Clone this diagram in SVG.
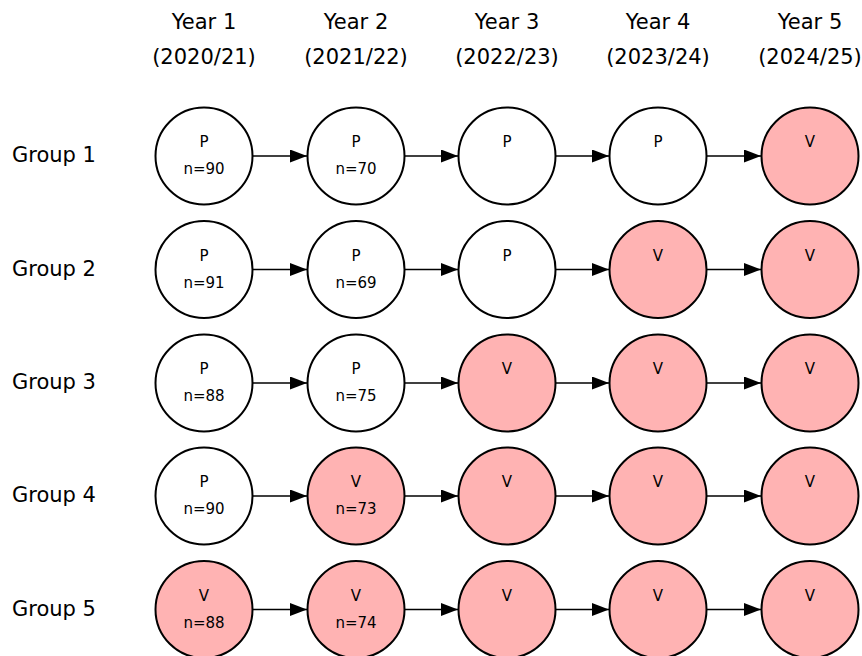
<svg xmlns="http://www.w3.org/2000/svg" width="862" height="656" viewBox="0 0 862 656">
<defs>
<marker id="ah" markerWidth="17" markerHeight="13" refX="17" refY="6.5" orient="auto" markerUnits="userSpaceOnUse">
<path d="M0,0 L17,6.5 L0,13 Z" fill="#000"/>
</marker>
<style>
.hd{font-family:"DejaVu Sans",sans-serif;font-size:21px;fill:#000;text-anchor:middle}
.gl{font-family:"DejaVu Sans",sans-serif;font-size:21px;fill:#000}
.nt{font-family:"DejaVu Sans",sans-serif;font-size:15px;fill:#000;text-anchor:middle}
.p{fill:#fff;stroke:#000;stroke-width:2}
.v{fill:#ffb3b3;stroke:#000;stroke-width:2}
.cn line{stroke:#000;stroke-width:1.3;marker-end:url(#ah)}
</style>
</defs>
<rect width="862" height="656" fill="#fff"/>
<g id="headers">
<text class="hd" x="204" y="29">Year 1</text><text class="hd" x="204" y="64">(2020/21)</text>
<text class="hd" x="356" y="29">Year 2</text><text class="hd" x="356" y="64">(2021/22)</text>
<text class="hd" x="507" y="29">Year 3</text><text class="hd" x="507" y="64">(2022/23)</text>
<text class="hd" x="658" y="29">Year 4</text><text class="hd" x="658" y="64">(2023/24)</text>
<text class="hd" x="810" y="29">Year 5</text><text class="hd" x="810" y="64">(2024/25)</text>
</g>
<g id="group-labels">
<text class="gl" x="12" y="162">Group 1</text>
<text class="gl" x="12" y="276">Group 2</text>
<text class="gl" x="12" y="389">Group 3</text>
<text class="gl" x="12" y="502">Group 4</text>
<text class="gl" x="12" y="616">Group 5</text>
</g>
<g id="connectors" class="cn">
<line x1="253" y1="156" x2="307" y2="156"/><line x1="405" y1="156" x2="458" y2="156"/><line x1="556" y1="156" x2="609" y2="156"/><line x1="707" y1="156" x2="761" y2="156"/>
<line x1="253" y1="269.5" x2="307" y2="269.5"/><line x1="405" y1="269.5" x2="458" y2="269.5"/><line x1="556" y1="269.5" x2="609" y2="269.5"/><line x1="707" y1="269.5" x2="761" y2="269.5"/>
<line x1="253" y1="383" x2="307" y2="383"/><line x1="405" y1="383" x2="458" y2="383"/><line x1="556" y1="383" x2="609" y2="383"/><line x1="707" y1="383" x2="761" y2="383"/>
<line x1="253" y1="496" x2="307" y2="496"/><line x1="405" y1="496" x2="458" y2="496"/><line x1="556" y1="496" x2="609" y2="496"/><line x1="707" y1="496" x2="761" y2="496"/>
<line x1="253" y1="609.5" x2="307" y2="609.5"/><line x1="405" y1="609.5" x2="458" y2="609.5"/><line x1="556" y1="609.5" x2="609" y2="609.5"/><line x1="707" y1="609.5" x2="761" y2="609.5"/>
</g>
<g id="g1y1"><circle class="p" cx="204" cy="156" r="48.5"/><text class="nt" x="204" y="147">P</text><text class="nt" x="204" y="174">n=90</text></g>
<g id="g1y2"><circle class="p" cx="356" cy="156" r="48.5"/><text class="nt" x="356" y="147">P</text><text class="nt" x="356" y="174">n=70</text></g>
<g id="g1y3"><circle class="p" cx="507" cy="156" r="48.5"/><text class="nt" x="507" y="147">P</text></g>
<g id="g1y4"><circle class="p" cx="658" cy="156" r="48.5"/><text class="nt" x="658" y="147">P</text></g>
<g id="g1y5"><circle class="v" cx="810" cy="156" r="48.5"/><text class="nt" x="810" y="147">V</text></g>

<g id="g2y1"><circle class="p" cx="204" cy="269.5" r="48.5"/><text class="nt" x="204" y="260.5">P</text><text class="nt" x="204" y="287.5">n=91</text></g>
<g id="g2y2"><circle class="p" cx="356" cy="269.5" r="48.5"/><text class="nt" x="356" y="260.5">P</text><text class="nt" x="356" y="287.5">n=69</text></g>
<g id="g2y3"><circle class="p" cx="507" cy="269.5" r="48.5"/><text class="nt" x="507" y="260.5">P</text></g>
<g id="g2y4"><circle class="v" cx="658" cy="269.5" r="48.5"/><text class="nt" x="658" y="260.5">V</text></g>
<g id="g2y5"><circle class="v" cx="810" cy="269.5" r="48.5"/><text class="nt" x="810" y="260.5">V</text></g>

<g id="g3y1"><circle class="p" cx="204" cy="383" r="48.5"/><text class="nt" x="204" y="374">P</text><text class="nt" x="204" y="401">n=88</text></g>
<g id="g3y2"><circle class="p" cx="356" cy="383" r="48.5"/><text class="nt" x="356" y="374">P</text><text class="nt" x="356" y="401">n=75</text></g>
<g id="g3y3"><circle class="v" cx="507" cy="383" r="48.5"/><text class="nt" x="507" y="374">V</text></g>
<g id="g3y4"><circle class="v" cx="658" cy="383" r="48.5"/><text class="nt" x="658" y="374">V</text></g>
<g id="g3y5"><circle class="v" cx="810" cy="383" r="48.5"/><text class="nt" x="810" y="374">V</text></g>

<g id="g4y1"><circle class="p" cx="204" cy="496" r="48.5"/><text class="nt" x="204" y="487">P</text><text class="nt" x="204" y="514">n=90</text></g>
<g id="g4y2"><circle class="v" cx="356" cy="496" r="48.5"/><text class="nt" x="356" y="487">V</text><text class="nt" x="356" y="514">n=73</text></g>
<g id="g4y3"><circle class="v" cx="507" cy="496" r="48.5"/><text class="nt" x="507" y="487">V</text></g>
<g id="g4y4"><circle class="v" cx="658" cy="496" r="48.5"/><text class="nt" x="658" y="487">V</text></g>
<g id="g4y5"><circle class="v" cx="810" cy="496" r="48.5"/><text class="nt" x="810" y="487">V</text></g>

<g id="g5y1"><circle class="v" cx="204" cy="609.5" r="48.5"/><text class="nt" x="204" y="600.5">V</text><text class="nt" x="204" y="627.5">n=88</text></g>
<g id="g5y2"><circle class="v" cx="356" cy="609.5" r="48.5"/><text class="nt" x="356" y="600.5">V</text><text class="nt" x="356" y="627.5">n=74</text></g>
<g id="g5y3"><circle class="v" cx="507" cy="609.5" r="48.5"/><text class="nt" x="507" y="600.5">V</text></g>
<g id="g5y4"><circle class="v" cx="658" cy="609.5" r="48.5"/><text class="nt" x="658" y="600.5">V</text></g>
<g id="g5y5"><circle class="v" cx="810" cy="609.5" r="48.5"/><text class="nt" x="810" y="600.5">V</text></g>
</svg>
